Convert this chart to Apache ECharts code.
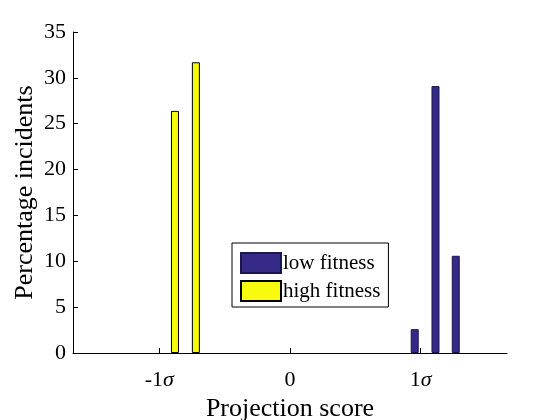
<!DOCTYPE html>
<html>
<head>
<meta charset="utf-8">
<script src="https://cdn.jsdelivr.net/npm/echarts@6/dist/echarts.min.js"></script>
<style>
  html, body { margin: 0; padding: 0; background: #fff; }
  #main { width: 560px; height: 420px; }
</style>
</head>
<body>
<div id="main"></div>
<script>
var chartDom = document.getElementById('main');
var myChart = echarts.init(chartDom);
var option;

// projection score (in sigma) and percentage of incidents
const lowX = [0.954, 1.113, 1.268];
const lowY = [2.6, 29.1, 10.6];
const highX = [-0.88, -0.72];
const highY = [26.4, 31.7];
const xTicks = [-1, 0, 1];
const seriesNames = ['low fitness', 'high fitness'];

const font = 'Liberation Serif';

function pairs(xs, ys) {
    return xs.map(function (x, i) { return [x, ys[i]]; });
}

option = {
    animation: false,
    textStyle: { fontFamily: font },
    grid: {
        left: 73,
        right: 53,
        top: 32,
        bottom: 67,
        containLabel: false,
        outerBoundsMode: 'none'
    },
    legend: {
        orient: 'vertical',
        left: 232,
        top: 243,
        icon: 'rect',
        itemWidth: 40,
        itemHeight: 20,
        itemGap: 6,
        padding: [9, 8, 5, 8],
        borderColor: '#000',
        borderWidth: 1,
        backgroundColor: '#fff',
        textStyle: { fontFamily: font, fontSize: 21, color: '#000', padding: [0, 0, 0, -3] },
        data: seriesNames
    },
    xAxis: {
        type: 'value',
        min: -1.66,
        max: 1.66,
        name: 'Projection score',
        nameLocation: 'middle',
        nameGap: 43,
        nameMoveOverlap: false,
        nameTextStyle: { fontFamily: font, fontSize: 26, color: '#000' },
        splitLine: { show: false },
        axisLine: { onZero: false, lineStyle: { color: '#000', width: 1 } },
        axisTick: { show: true, inside: true, length: 5, customValues: xTicks, lineStyle: { color: '#000' } },
        axisLabel: {
            customValues: xTicks,
            margin: 16,
            fontSize: 22,
            color: '#000',
            fontFamily: font,
            formatter: function (v) {
                if (v === 0) return '0';
                return (v < 0 ? '-1' : '1') + '{i|σ}';
            },
            rich: {
                i: { fontStyle: 'italic', fontSize: 22, fontFamily: font, color: '#000' }
            }
        }
    },
    yAxis: {
        type: 'value',
        min: 0,
        max: 35,
        interval: 5,
        name: 'Percentage incidents',
        nameLocation: 'middle',
        nameGap: 35,
        nameMoveOverlap: false,
        nameTextStyle: { fontFamily: font, fontSize: 26, color: '#000' },
        splitLine: { show: false },
        axisLine: { show: true, onZero: false, lineStyle: { color: '#000', width: 1 } },
        axisTick: { show: true, inside: true, length: 5, lineStyle: { color: '#000' } },
        axisLabel: { fontSize: 22, color: '#000', fontFamily: font, margin: 7 }
    },
    series: [
        {
            name: seriesNames[0],
            type: 'bar',
            barWidth: 8,
            barGap: '-100%',
            itemStyle: { color: '#352a87', borderColor: '#1a1650', borderWidth: 1 },
            data: pairs(lowX, lowY)
        },
        {
            name: seriesNames[1],
            type: 'bar',
            barWidth: 8,
            barGap: '-100%',
            itemStyle: { color: '#f9fb0e', borderColor: '#000', borderWidth: 1 },
            data: pairs(highX, highY)
        }
    ]
};

option && myChart.setOption(option);
</script>
</body>
</html>
